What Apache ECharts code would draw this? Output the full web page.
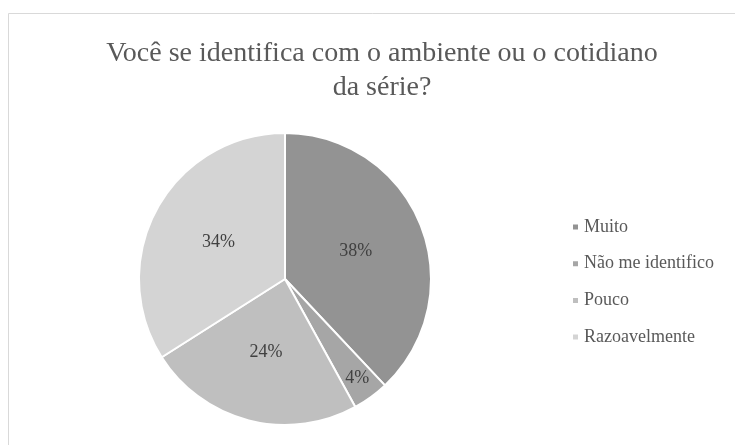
<!DOCTYPE html>
<html>
<head>
<meta charset="utf-8">
<script src="https://cdn.jsdelivr.net/npm/echarts@6/dist/echarts.min.js"></script>
<style>
  html, body { margin: 0; padding: 0; background: #ffffff; }
  #chart { width: 735px; height: 445px; }
</style>
</head>
<body>
<div id="chart"></div>
<script>
// Survey answers and their share of responses (%)
const categories = ['Muito', 'Não me identifico', 'Pouco', 'Razoavelmente'];
const values = [38, 4, 24, 34];
const sliceColors = ['#939393', '#a6a6a6', '#bfbfbf', '#d4d4d4'];
// Slices whose label sits near the outer rim instead of mid-radius
const rimLabelNames = ['Não me identifico'];

const titleText = 'Você se identifica com o ambiente ou o cotidiano\nda série?';
const serif = '"Liberation Serif", "Times New Roman", serif';

const pieData = categories.map((name, i) => ({
  name: name,
  value: values[i],
  itemStyle: { color: sliceColors[i] },
  label: { show: rimLabelNames.indexOf(name) < 0 }
}));

const rimData = categories.map((name, i) => ({
  name: name,
  value: values[i],
  label: { show: rimLabelNames.indexOf(name) >= 0 }
}));

const labelStyle = {
  position: 'inside',
  formatter: '{d}%',
  fontFamily: serif,
  fontSize: 18,
  color: '#404040'
};

const chart = echarts.init(document.getElementById('chart'), null, { renderer: 'canvas' });

chart.setOption({
  animation: false,
  backgroundColor: '#ffffff',
  graphic: [{
    type: 'rect',
    shape: { x: 8.5, y: 13.5, width: 740, height: 440 },
    style: { fill: 'none', stroke: '#d9d9d9', lineWidth: 1 },
    silent: true,
    z: -10
  }],
  title: {
    text: titleText,
    left: 377,
    top: 32,
    textAlign: 'center',
    textStyle: {
      fontFamily: serif,
      fontSize: 28,
      fontWeight: 'normal',
      color: '#595959',
      lineHeight: 34
    }
  },
  legend: {
    orient: 'vertical',
    left: 571,
    top: 218,
    padding: 0,
    itemWidth: 7,
    itemHeight: 7,
    itemGap: 18.7,
    icon: 'rect',
    data: categories,
    textStyle: {
      fontFamily: serif,
      fontSize: 18,
      color: '#595959',
      lineHeight: 18,
      padding: [0, 0, 0, 0]
    }
  },
  series: [
    {
      name: 'Respostas',
      type: 'pie',
      center: [285, 279],
      radius: [0, 146],
      startAngle: 90,
      clockwise: true,
      percentPrecision: 0,
      data: pieData,
      itemStyle: { borderColor: '#ffffff', borderWidth: 2 },
      label: labelStyle,
      labelLine: { show: false },
      emphasis: { disabled: true }
    },
    {
      name: 'Rótulos',
      type: 'pie',
      center: [285, 279],
      radius: [94, 146],
      startAngle: 90,
      clockwise: true,
      percentPrecision: 0,
      silent: true,
      data: rimData,
      itemStyle: { color: 'rgba(0,0,0,0)', borderWidth: 0 },
      label: labelStyle,
      labelLine: { show: false },
      emphasis: { disabled: true },
      z: 3
    }
  ]
});
</script>
</body>
</html>
